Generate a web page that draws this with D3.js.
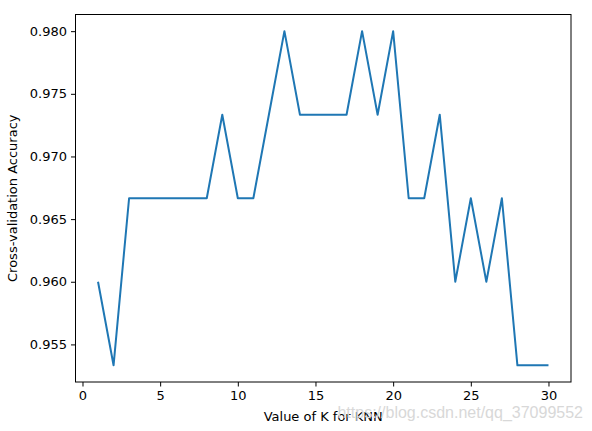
<!DOCTYPE html>
<html>
<head>
<meta charset="utf-8">
<script src="https://cdn.jsdelivr.net/npm/d3@7"></script>
<style>
  body { margin: 0; background: #fff; }
  text { font-family: "DejaVu Sans", sans-serif; }
</style>
</head>
<body>
<svg id="chart"></svg>
<script>
const kValues = d3.range(1, 31);
const scores = [0.96, 0.9533333, 0.9666667, 0.9666667, 0.9666667, 0.9666667, 0.9666667, 0.9666667, 0.9733333, 0.9666667,
  0.9666667, 0.9733333, 0.98, 0.9733333, 0.9733333, 0.9733333, 0.9733333, 0.98, 0.9733333, 0.98,
  0.9666667, 0.9666667, 0.9733333, 0.96, 0.9666667, 0.96, 0.9666667, 0.9533333, 0.9533333, 0.9533333];
const xTicks = [0, 5, 10, 15, 20, 25, 30];
const yTicks = [0.955, 0.960, 0.965, 0.970, 0.975, 0.980];

const width = 592, height = 431;
const margin = { top: 14.5, right: 21, bottom: 49, left: 75.5 };

const svg = d3.select("#chart").attr("width", width).attr("height", height);

const xScale = d3.scaleLinear()
  .domain([-0.45, 31.45])
  .range([margin.left, width - margin.right]);

const yScale = d3.scaleLinear()
  .domain([0.952, 0.98133])
  .range([height - margin.bottom, margin.top]);

const xAxis = d3.axisBottom(xScale).tickValues(xTicks).tickSize(4.5).tickPadding(4).tickFormat(d3.format("d"));
const yAxis = d3.axisLeft(yScale).tickValues(yTicks).tickSize(4.5).tickPadding(4).tickFormat(d3.format(".3f"));

const gx = svg.append("g")
  .attr("transform", `translate(0, ${height - margin.bottom})`)
  .call(xAxis);
const gy = svg.append("g")
  .attr("transform", `translate(${margin.left}, 0)`)
  .call(yAxis);

[gx, gy].forEach(g => {
  g.select(".domain").remove();
  g.selectAll("text").style("font-size", "13px").attr("fill", "#000");
  g.selectAll("line").attr("stroke", "#000").attr("stroke-width", 1);
});

const line = d3.line()
  .x((d, i) => xScale(kValues[i]))
  .y(d => yScale(d));

svg.append("path")
  .datum(scores)
  .attr("fill", "none")
  .attr("stroke", "#1f77b4")
  .attr("stroke-width", 2)
  .attr("stroke-linejoin", "round")
  .attr("d", line);

svg.append("rect")
  .attr("x", margin.left)
  .attr("y", margin.top)
  .attr("width", width - margin.left - margin.right)
  .attr("height", height - margin.top - margin.bottom)
  .attr("fill", "none")
  .attr("stroke", "#000")
  .attr("stroke-width", 1);

svg.append("text")
  .attr("x", (margin.left + width - margin.right) / 2)
  .attr("y", 421)
  .attr("text-anchor", "middle")
  .style("font-size", "13px")
  .text("Value of K for KNN");

svg.append("text")
  .attr("transform", "rotate(-90)")
  .attr("x", -(margin.top + height - margin.bottom) / 2)
  .attr("y", 17)
  .attr("text-anchor", "middle")
  .style("font-size", "13px")
  .text("Cross-validation Accuracy");

svg.append("text")
  .attr("x", 583)
  .attr("y", 418)
  .attr("text-anchor", "end")
  .attr("fill", "#d8d8d8")
  .style("font-family", "Liberation Sans, Arial, sans-serif")
  .style("font-size", "16px")
  .text("https://blog.csdn.net/qq_37099552");
</script>
</body>
</html>
